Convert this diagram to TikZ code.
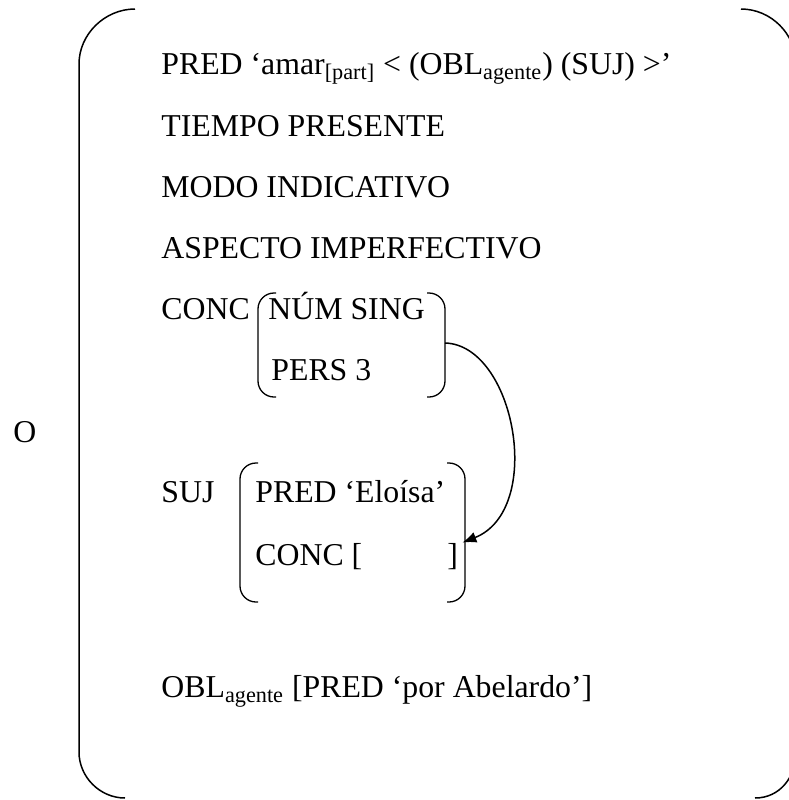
\documentclass[tikz,border=0pt]{standalone}
\usepackage{fontspec}
\setmainfont{Liberation Serif}
\usetikzlibrary{arrows.meta, positioning}

\begin{document}
\begin{tikzpicture}[x=0.5pt, y=-0.5pt, >={Latex[length=7pt, width=5.5pt]},
		feat/.style={anchor=base west, inner sep=0pt, font=\fontsize{15.9}{19}\selectfont},
		brak/.style={line width=0.65pt, rounded corners=8pt},
		bigbrak/.style={line width=0.75pt}]
		
		\useasboundingbox (0,0) rectangle (789,800);
		
		\node[feat] (fsO) at (13,442) {O};
		\node[feat] (pred) at (161,74) {PRED ‘amar\textsubscript{[part]} < (OBL\textsubscript{agente}) (SUJ) >’};
		\node[feat] (tiempo) at (161,136) {TIEMPO PRESENTE};
		\node[feat] (modo) at (161,197) {MODO INDICATIVO};
		\node[feat] (aspecto) at (161,258) {ASPECTO IMPERFECTIVO};
		\node[feat] (conc) at (161,319) {CONC};
		\node[feat] (numsing) at (268,319) {NÚM SING};
		\node[feat] (pers) at (271,380) {PERS 3};
		\node[feat] (suj) at (161,502) {SUJ};
		\node[feat] (sujpred) at (255,502) {PRED ‘Eloísa’};
		\node[feat] (sujconc) at (255,565) {CONC [};
		\node[feat] (sujclose) at (447,565) {]};
		\node[feat] (obl) at (161,697) {OBL\textsubscript{agente} [PRED ‘por Abelardo’]};
		
		% outer brackets
		\draw[bigbrak] (135,9) .. controls (105,9) and (79,34) .. (79,64) -- (79,752) .. controls (79,777) and (100,798) .. (125,798);
		\draw[bigbrak] (741,9) .. controls (771,9) and (796,34) .. (796,64) -- (796,752) .. controls (796,777) and (780,798) .. (755,798);
		
		% CONC and SUJ brackets
		\draw[brak] (276,293) -- (258,293) -- (258,397) -- (276,397);
		\draw[brak] (427,293) -- (445,293) -- (445,397) -- (427,397);
		\draw[brak] (258,463) -- (240,463) -- (240,602) -- (258,602);
		\draw[brak] (447,463) -- (465,463) -- (465,602) -- (447,602);
		
		\coordinate (concR) at (445,343);
		\draw[->, line width=0.75pt] (concR) .. controls (515,345) and (545,510) .. ([xshift=2pt]sujclose.north east);
	\end{tikzpicture}
\end{document}
